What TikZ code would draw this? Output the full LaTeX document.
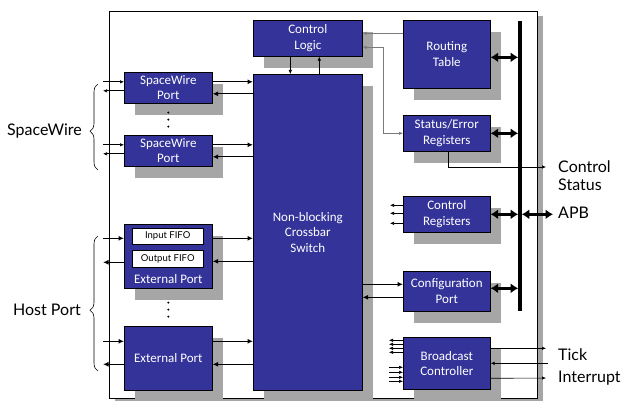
\documentclass[tikz,border=0pt]{standalone}
\usepackage{fontspec}
\setmainfont{Carlito}
\newfontfamily\lblfont{Lato}
\usetikzlibrary{arrows.meta,shadows,decorations.pathreplacing}
\definecolor{blockblue}{HTML}{333399}
\definecolor{shadowgray}{HTML}{A6A6A6}
\definecolor{wiregray}{HTML}{7A7A7A}

\begin{document}
\begin{tikzpicture}[
    x=1pt, y=-1pt,
    block/.style={draw=black, line width=0.6pt, fill=blockblue, text=white,
      align=center, inner sep=0pt, anchor=north west,
      font=\fontsize{13}{15.5}\selectfont,
      drop shadow={shadow xshift=11pt, shadow yshift=-12pt, fill=shadowgray, opacity=1}},
    fifo/.style={draw=black, line width=0.5pt, fill=white, text=black,
      inner sep=0pt, anchor=north west, minimum width=71pt,
      font=\lblfont\fontsize{9.5}{11}\selectfont},
    extlbl/.style={inner sep=0pt, align=left, font=\lblfont\fontsize{16}{18}\selectfont},
    stub/.style={line width=0.6pt, >={Latex[length=4pt,width=3.5pt]}},
    link/.style={line width=1.3pt, >={Latex[length=5.5pt,width=5pt]}},
    grayline/.style={wiregray, line width=0.6pt, >={Latex[length=4pt,width=3.5pt]}},
    busarrow/.style={line width=2.8pt, {Latex[length=7.5pt,width=10pt]}-{Latex[length=7.5pt,width=10pt]}},
    brace/.style={decorate, decoration={brace, amplitude=8pt, aspect=0.45}, line width=0.6pt}
  ]
  \useasboundingbox (0,0) rectangle (621,401);

  % outer frame of the router
  \path[draw=black, line width=0.8pt, fill=white,
    drop shadow={shadow xshift=6pt, shadow yshift=-5pt, fill=shadowgray, opacity=1}]
    (109,11) rectangle (537,398);

  % centre column
  \node[block, minimum width=109pt, minimum height=36pt]
    (logic)
    at
    (253,20)
    {Control\\Logic};

  \node[block, minimum width=109pt, minimum height=316pt]
    (xbar)
    at
    (253,74)
    {Non-blocking\\Crossbar\\Switch};

  % ports on the left
  \node[block, minimum width=88pt, minimum height=31pt]
    (sw1) at (124,72) {SpaceWire\\Port};
  \node[block, minimum width=88pt, minimum height=31pt]
    (sw2) at (124,135) {SpaceWire\\Port};
  \node[block, minimum width=88pt, minimum height=64pt]
    (ext1) at (124,224) {};
  \node[block, minimum width=88pt, minimum height=64pt]
    (ext2) at (124,326) {External Port};

  \node[fifo, minimum height=16pt] (infifo) at (132,228) {Input FIFO};
  \node[fifo, minimum height=17pt] (outfifo) at (132,250) {Output FIFO};
  \node[inner sep=0pt, text=white, font=\fontsize{13}{15.5}\selectfont]
    (extname) at ([yshift=10pt]ext1.south) {External Port};

  % dots between the ports
  \foreach \i in {0,1,2} {
    \fill ([yshift=-9pt-\i*7pt]sw1.south) circle (1.1pt);
    \fill ([yshift=-14pt-\i*7pt]ext1.south) circle (1.1pt);
  }

  % blocks on the right
  \node[block, minimum width=87pt, minimum height=68pt]
    (rt) at (403,20) {Routing\\Table};
  \node[block, minimum width=87pt, minimum height=36pt]
    (se) at (403,115) {Status/Error\\Registers};
  \node[block, minimum width=87pt, minimum height=36pt]
    (creg) at (403,196) {Control\\Registers};
  \node[block, minimum width=87pt, minimum height=40pt]
    (cfg) at (403,271) {Configuration\\Port};
  \node[block, minimum width=87pt, minimum height=52pt]
    (bcast) at (403,337) {Broadcast\\Controller};

  % outside labels
  \node[extlbl, anchor=east] (swlbl) at (82,131) {SpaceWire};
  \node[extlbl, anchor=east] (hostlbl) at (81,310) {Host Port};
  \node[extlbl, anchor=west] (ctrlstat) at (558,176) {Control\\Status};
  \node[extlbl, anchor=west] (apb) at (558,213) {APB};
  \node[extlbl, anchor=west] (tick) at (558,355) {Tick};
  \node[extlbl, anchor=west] (irq) at (558,378) {Interrupt};

  \draw[brace] (98,170) -- (98,84);
  \draw[brace] (98,371) -- (98,236);

  % APB bus
  \coordinate (bustop) at (520,21);
  \coordinate (busbot) at (520,311);
  \draw[line width=3.6pt] (bustop) -- (busbot);

  \draw[busarrow, shorten >=1.8pt] ([yshift=-3pt]rt.east) -- ([yshift=-3pt]rt.east -| bustop);
  \draw[busarrow, shorten >=1.8pt] (se.east) -- (se.east -| bustop);
  \draw[busarrow, shorten >=1.8pt] (creg.east) -- (creg.east -| bustop);
  \draw[busarrow, shorten >=1.8pt] ([yshift=3pt]cfg.east) -- ([yshift=3pt]cfg.east -| bustop);
  \draw[busarrow, shorten <=1.8pt, shorten >=5pt] (creg.east -| bustop) -- (creg.east -| apb.west);

  % spacewire links
  \draw[stub, <-] ([yshift=6pt]sw1.west) -- ++(-21,0);
  \draw[stub, ->] ([yshift=-3pt]sw1.west) -- ++(-21,0);
  \draw[link, ->] ([yshift=6pt]sw1.east) -- ([yshift=6pt]sw1.east -| xbar.west);
  \draw[link, <-] ([yshift=-6pt]sw1.east) -- ([yshift=-6pt]sw1.east -| xbar.west);

  \draw[stub, <-] ([yshift=6pt]sw2.west) -- ++(-21,0);
  \draw[stub, ->] ([yshift=-3pt]sw2.west) -- ++(-21,0);
  \draw[link, ->] ([yshift=6pt]sw2.east) -- ([yshift=6pt]sw2.east -| xbar.west);
  \draw[link, <-] ([yshift=-6pt]sw2.east) -- ([yshift=-6pt]sw2.east -| xbar.west);

  % host port links
  \draw[link, <-] ([yshift=18pt]ext1.west) -- ++(-21,0);
  \draw[link, ->] ([yshift=-6pt]ext1.west) -- ++(-21,0);
  \draw[link, ->] ([yshift=18pt]ext1.east) -- ([yshift=18pt]ext1.east -| xbar.west);
  \draw[link, <-] ([yshift=-5pt]ext1.east) -- ([yshift=-5pt]ext1.east -| xbar.west);

  \draw[link, <-] ([yshift=17pt]ext2.west) -- ++(-21,0);
  \draw[link, ->] ([yshift=-6pt]ext2.west) -- ++(-21,0);
  \draw[link, ->] ([yshift=17pt]ext2.east) -- ([yshift=17pt]ext2.east -| xbar.west);
  \draw[link, <-] ([yshift=-6pt]ext2.east) -- ([yshift=-6pt]ext2.east -| xbar.west);

  % configuration port
  \draw[link, ->] ([yshift=7pt]cfg.west -| xbar.east) -- ([yshift=7pt]cfg.west);
  \draw[link, <-] ([yshift=-6pt]cfg.west -| xbar.east) -- ([yshift=-6pt]cfg.west);

  % control logic
  \draw[stub, ->] ([xshift=-17.5pt]logic.south) -- ([xshift=-17.5pt]logic.south |- xbar.north);
  \draw[stub, <-] ([xshift=11.5pt]logic.south) -- ([xshift=11.5pt]logic.south |- xbar.north);
  \draw[grayline, ->] ([yshift=21pt]rt.west) -- ([yshift=21pt]rt.west -| logic.east);
  \draw[grayline, <->] ([yshift=-9pt]logic.east) -- ++(21,0) |- (se.west);

  % status, control and broadcast signals
  \draw[stub, ->, shorten >=12pt] ([xshift=1.5pt]se.south) |- ([yshift=9pt]ctrlstat.west);
  \foreach \dy in {9,1,-9}
    \draw[stub, ->] ([yshift=\dy pt]creg.west) -- ++(-13,0);
  \foreach \dy in {23,19,15,11}
    \draw[stub, ->] ([yshift=\dy pt]bcast.west) -- ++(-14,0);
  \foreach \dy in {-4,-9,-14,-18}
    \draw[stub, <-] ([yshift=\dy pt]bcast.west) -- ++(-14,0);
  \draw[stub, ->, shorten >=12pt] ([yshift=15pt]bcast.east) -- ([yshift=15pt]bcast.east -| tick.west);
  \draw[stub, <-] (bcast.east) -- ++(57,0);
  \draw[stub, ->, shorten >=12pt] ([yshift=-15pt]bcast.east) -- (irq.west);
\end{tikzpicture}
\end{document}
